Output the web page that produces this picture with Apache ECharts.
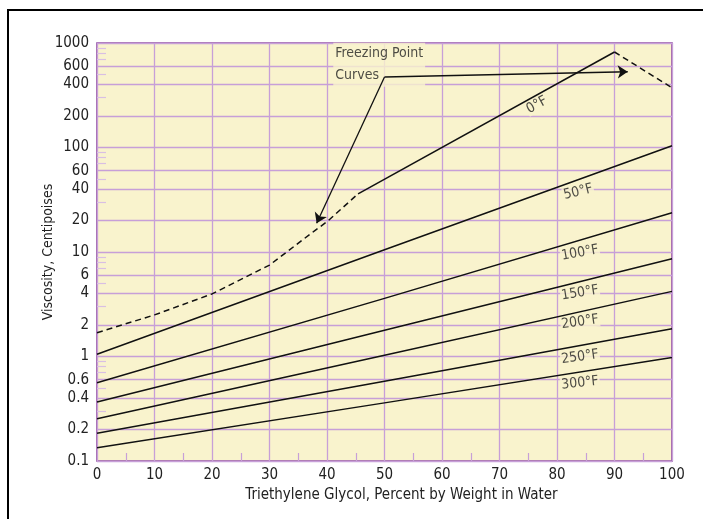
<!DOCTYPE html>
<html><head><meta charset="utf-8">
<script src="https://cdn.jsdelivr.net/npm/echarts@6/dist/echarts.min.js"></script>
<style>html,body{margin:0;padding:0;background:#fff}#c{width:703px;height:519px}</style>
</head><body><div id="c"></div>
<script>
const FONT = "'Liberation Sans Narrow','DejaVu Sans Condensed','Roboto Condensed','Liberation Sans',sans-serif";
const TXT = '#222';
const BG = '#f9f3cd';
const GRID = '#c79fd8';
const BORDER = '#8e4aa0';

// axes
const xTicks = [0,10,20,30,40,50,60,70,80,90,100];
const xMinorTicks = [5,15,25,35,45,55,65,75,85,95];
const yTickLabels = [0.1,0.2,0.4,0.6,1,2,4,6,10,20,40,60,100,200,400,600,1000];
const yMinorTicks = [0.3,0.5,0.7,0.8,0.9,3,5,7,8,9,30,50,70,80,90,300,500,700,800,900];

// temperature lines (percent glycol -> viscosity cP)
const pct = [0,50,100];
const v50F  = [1.05,10.5,104];
const v100F = [0.56,3.6,23.7];
const v150F = [0.367,1.78,8.6];
const v200F = [0.254,1.03,4.2];
const v250F = [0.184,0.58,1.84];
const v300F = [0.134,0.36,0.98];
const pct0F = [45.4,90];
const v0F   = [36,820];

// freezing point curves (dashed)
const freezeLowPct = [0,10,20,30,38,40,45.4];
const freezeLowV   = [1.69,2.5,3.97,7.5,16.2,19.5,36];
const freezeHighPct = [90,100];
const freezeHighV   = [820,373];

// curve labels
const labelTexts = ['0°F','50°F','100°F','150°F','200°F','250°F','300°F'];
const labelPct   = [76.5,83.7,84,84,84,84,84];
const labelV     = [255,37.5,9.8,4.05,2.14,0.99,0.557];
const labelRot   = [29,14,10,9,8,8,6];

// annotation
const annoText = 'Freezing Point\nCurves';
const annoPos = [41,620];
const arrowFrom = [50,473];
const arrowTo1 = [92.3,531];
const arrowTo2 = [38.2,18.8];

const zip = (a,b) => a.map((x,i)=>[x,b[i]]);
const solid = {color:'#111',width:1.5};
const dashed = {color:'#111',width:1.5,type:[6,4]};

function lineSeries(name, xs, vs, style, extra){
  return Object.assign({
    name, type:'line', data: zip(xs,vs), showSymbol:false, symbol:'none',
    lineStyle: style, silent:true, animation:false, z:5
  }, extra||{});
}

const series = [
  lineSeries('0°F', pct0F, v0F, solid),
  lineSeries('50°F', pct, v50F, solid),
  lineSeries('100°F', pct, v100F, solid),
  lineSeries('150°F', pct, v150F, solid),
  lineSeries('200°F', pct, v200F, solid),
  lineSeries('250°F', pct, v250F, solid),
  lineSeries('300°F', pct, v300F, solid),
  lineSeries('freezeLow', freezeLowPct, freezeLowV, dashed),
  lineSeries('freezeHigh', freezeHighPct, freezeHighV, dashed),
  {
    type:'scatter', silent:true, animation:false, z:8,
    symbolSize:1, itemStyle:{color:'rgba(0,0,0,0)'},
    data: labelTexts.map((t,i)=>({
      value:[labelPct[i],labelV[i]], name:t,
      label:{rotate:labelRot[i]}
    })),
    label:{show:true, position:'inside', formatter:p=>p.name,
      fontFamily:FONT, fontSize:14, color:TXT, backgroundColor:BG, padding:[0,1]}
  },
  {
    type:'scatter', silent:true, animation:false, z:8,
    symbolSize:1, itemStyle:{color:'rgba(0,0,0,0)'},
    data:[{value:annoPos, name:annoText}],
    label:{show:true, position:'right', distance:0, formatter:p=>p.name, align:'left',
      fontFamily:FONT, fontSize:14, lineHeight:22, color:TXT, backgroundColor:BG, padding:[0,2]},
    markLine:{
      silent:true, animation:false, z:9,
      symbol:['none','arrow'], symbolSize:10,
      lineStyle:{color:'#111',width:1.3,type:'solid'},
      label:{show:false},
      data:[
        [{coord:arrowFrom, symbol:'none'},{coord:arrowTo1, symbol:'arrow'}],
        [{coord:arrowFrom, symbol:'none'},{coord:arrowTo2, symbol:'arrow'}]
      ]
    }
  }
];

const chart = echarts.init(document.getElementById('c'), null, {renderer:'canvas'});
chart.setOption({
  backgroundColor:'#fff',
  animation:false,
  textStyle:{fontFamily:FONT},
  grid:{left:97, right:31, top:43, bottom:58, show:true, backgroundColor:BG, borderColor:BORDER, borderWidth:1.6, containLabel:false},
  graphic:[
    {type:'polyline', shape:{points:[[8,519],[8,10],[703,10]]}, style:{stroke:'#000', lineWidth:2, fill:null}, z:100}
  ],
  xAxis:[{
    type:'value', min:0, max:100, interval:10,
    axisLine:{show:false}, axisTick:{show:false},
    axisLabel:{fontFamily:FONT, fontSize:15, color:TXT, margin:7},
    splitLine:{show:true, lineStyle:{color:GRID, width:1.3}},
    name:'Triethylene Glycol, Percent by Weight in Water', nameLocation:'middle', nameGap:27,
    nameMoveOverlap:false,
    nameTextStyle:{fontFamily:FONT, fontSize:15, color:TXT, padding:[0,0,0,34]}
  },{
    type:'value', min:0, max:100, position:'bottom', show:true,
    axisLine:{show:false}, axisLabel:{show:false}, splitLine:{show:false},
    axisTick:{show:true, inside:true, length:8, customValues:xMinorTicks, lineStyle:{color:GRID, width:1.2}}
  }],
  yAxis:[{
    type:'log', logBase:10, min:0.1, max:1000,
    axisLine:{show:false},
    axisTick:{show:false, customValues:yTickLabels},
    axisLabel:{fontFamily:FONT, fontSize:15, color:TXT, margin:8, customValues:yTickLabels,
      formatter:v=>String(+Number(v).toPrecision(3))},
    splitLine:{show:true, lineStyle:{color:GRID, width:1.3}},
    name:'Viscosity, Centipoises', nameLocation:'middle', nameGap:42, nameRotate:90,
    nameMoveOverlap:false,
    nameTextStyle:{fontFamily:FONT, fontSize:14, color:TXT}
  },{
    type:'log', logBase:10, min:0.1, max:1000, position:'left',
    axisLine:{show:false}, axisLabel:{show:false}, splitLine:{show:false},
    axisTick:{show:true, inside:true, length:9, customValues:yMinorTicks, lineStyle:{color:'#d9bfe3', width:1.2}}
  }],
  series: series
});
</script></body></html>
